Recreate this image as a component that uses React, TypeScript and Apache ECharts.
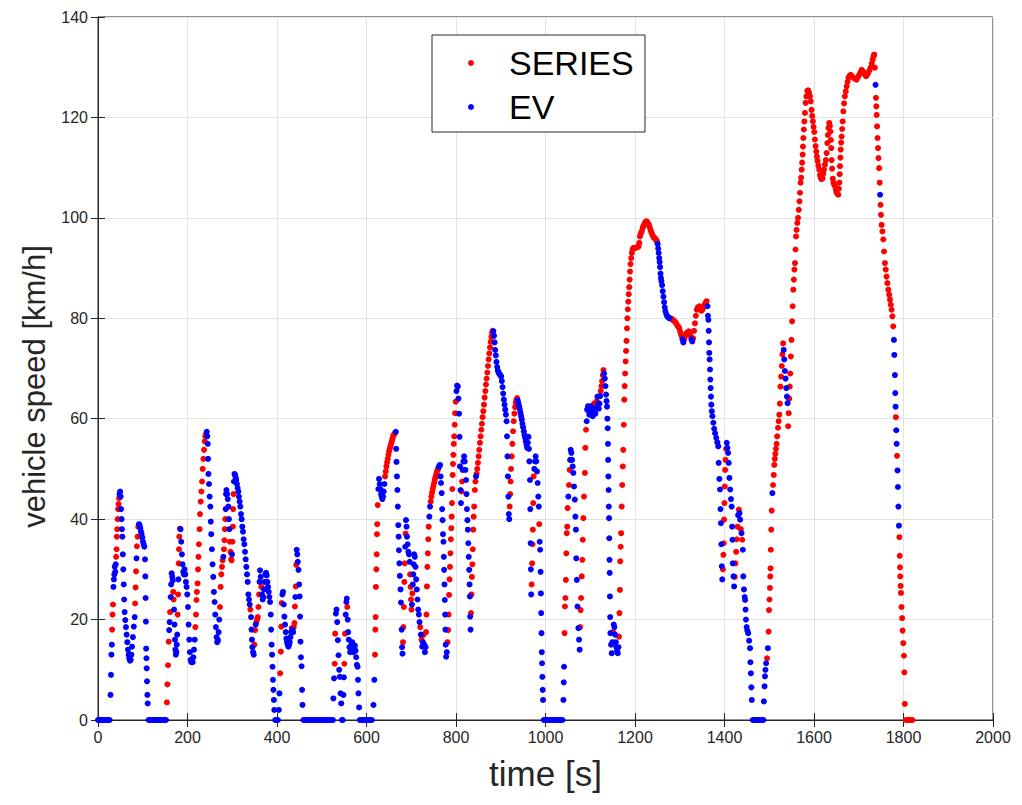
import React, { useEffect, useRef } from "react";
import * as echarts from "echarts";

type Mode = "S" | "E";
type Pt = [number, number, Mode];
const S: Mode = "S";
const E: Mode = "E";

// [time s, speed km/h, mode]  (S = SERIES, E = EV)
const lowPhase: Pt[] = [
  [0,0,E],[2,0,E],[4,0,E],[6,0,E],[8,0,E],[10,0,E],[12,0,E],[14,0,E],[16,0,E],[18,0,E],[20,0,E],[22,0,E],[24,0,E],[26,0,E],
  [28,5,E],[29,9,E],[30,13,E],[31,15,E],[31.5,18,S],[32.5,21,S],[33.5,23,S],[34.5,26.5,E],[35.5,28,E],[36.5,29,E],[37.5,30.5,E],[38.5,29.5,E],[39.5,31,E],[40.5,32.5,S],[41.5,34,S],[42,36.5,S],[43,38,S],[44,40,S],[45,42,S],[46,43,S],[47,44.2,S],[48,45,E],[49.5,45.5,E],[50.5,44.5,E],[51.5,42,E],[52.5,40,E],[53.5,38,E],[54.5,36.5,E],[55.5,33,E],[56.5,30,E],[57.5,27,E],[58.5,24,E],[59.5,21.5,E],[61,19.9,E],[62.5,18.5,E],[64,17,E],[65.5,15.5,E],[67,14,E],[68.5,13,E],[70,12.3,E],[71.5,11.8,E],[73,12,E],[74.5,13,E],[76,14.6,E],[78,16.5,E],[80,18.6,E],[82,20.5,E],[83,23.2,S],[84,26.4,S],[85,29.6,S],[86,32.2,E],[87,34.6,S],[88.5,36.5,S],[90,38.5,S],[91.5,39,E],[93,38.8,E],[94.5,38.2,E],[96,37.5,E],[97.5,37,E],[99,36.3,E],[100.5,35.5,E],[102,35,E],[103.5,34.5,E],[105,32,E],[105.8,28.6,E],[106.4,24.3,E],[107,19.6,E],[107.6,14.2,E],[108.2,12.3,E],[108.8,10.3,E],[109.5,7.7,E],[110.3,5,E],[111,3.3,E],
  [113,0,E],[116,0,E],[119,0,E],[122,0,E],[125,0,E],[128,0,E],[131,0,E],[134,0,E],[137,0,E],[140,0,E],[143,0,E],[146,0,E],[149,0,E],[152,0,E],
  [154,3.5,S],[155,7.1,S],[156.5,10.9,S],[158,15.6,S],[159,17.9,E],[160,19.5,E],[161,21.5,S],[162.4,24.5,E],[163.5,27,E],[164.6,29.2,E],[166,28.5,E],[167,27.8,E],[168,25.5,S],[169,24,S],[170,22,E],[171,19,E],[172,16,E],[173,14,E],[174,13,E],[175,13.5,E],[176,15,E],[177,17,E],[178,21,S],[179,25,S],[179.6,28,E],[180.3,31.2,S],[181,34,S],[181.7,36.5,S],[183,38.1,S],[184.5,38,E],[186,35.5,E],[187.5,33,E],[189,31,E],[190.5,29.5,E],[192,29,E],[193.5,30,E],[195,29,E],[196.5,27.5,E],[198,26.5,E],[199.5,25,E],[201,22.5,E],[202.5,19,E],[204,16,E],[205.5,13.5,E],[207,12,E],[208.5,11.5,E],[210,12,E],[211.5,11.5,E],[213,12.5,E],[214.5,14,E],[216,16,E],
  [217.5,18.5,S],[219,21,S],[220,23.9,S],[221,25.5,S],[222.5,27.2,S],[223.5,30,S],[224.5,32.5,S],[225.5,35,S],[227,38,S],[228,41,S],[229.5,43.5,S],[231,45.5,S],[232.5,47.5,S],[234,50,S],[235.5,52,S],[237,53.8,S],[238.5,55.5,S],[240,56.5,S],[241.5,57,S],[243,57.4,E],[244.2,56.5,E],[245.2,55,E],[246,52,E],[246.8,49,E],[248,47,E],[249.5,44.5,E],[251,42.5,E],[252,39.5,E],[253,37,E],[254.5,34,E],[256,31,E],[257.5,28.5,E],[259,25.5,E],[260.5,23.5,E],[262,21,E],[263.5,18.5,E],[265,16.5,E],[266.5,15.5,E],[268,15.9,E],[269.5,17.5,E],[271,20,E],
  [272.5,22.5,S],[274,26.5,S],[275.5,29,S],[277,30.5,S],[278.5,31.8,S],[280,32.5,E],[281.5,34,S],[282.5,35.8,S],[283.5,38,S],[284.5,40,S],[285.3,42,E],[286,45,E],[287,45.8,E],[288.5,45,E],[290,44,E],[291.3,42.5,E],[292.5,40,E],[293.5,38,E],[294.5,35.5,S],[296,33.5,S],[297.5,32,S],[298.6,31.8,S],[299.5,33,E],[300.5,35.5,S],[301.3,38.5,S],[302,42,S],[302.8,45,S],[303.8,47.5,E],[305,49,E],[306.3,48.8,E],[307.6,48.3,E],[309,47.8,E],[310.5,47,E],[312,46.2,E],[313.5,45.5,E],[315,44.5,E],[316.5,43.5,E],[318,42.5,E],[319.5,41,E],[321,40,E],[322.5,38.5,E],[324,37.5,E],[325.5,36,E],[327,35,E],[328.5,33.5,E],[330,32,E],[331.5,30.5,E],[333,29,E],[334.5,27.5,E],[336,25,E],[337.5,24,E],[339,23,E],[340.5,22,S],[342,20.5,E],[343,18,E],[344,16,E],[345,14.5,E],[346.5,13.5,E],[348,13,E],
  [349.5,15,S],[351,17.9,S],[352.5,19,E],[354,19.5,S],[355.5,20,S],[357,20.5,S],[358.5,22.5,S],[360,25,S],[361,27.5,E],[362,29.8,E],[363.5,28.5,E],[365,26.5,S],[366.5,25,E],[368,24,E],[369.5,24.5,E],[371,26,E],[372.5,27.5,E],[374,29,E],[375.5,29.3,E],[377,28.8,E],[378.5,27.5,E],[380,26.5,E],[381.5,25.5,E],[383,24.5,E],[384.5,23.5,E],[386,21,E],[387,18,E],[388,15,E],[389,13,E],[390,10.6,E],[391,8,E],[392,6,E],[393,4,E],[394,2,E],[396,0,E],[398,0,E],[400,0,E],[402,0,E],
  [404,2,E],[405.5,5.3,E],[407,9.3,S],[408.5,13.6,S],[409.5,18.6,S],[410.5,23.3,S],[412,25,E],[413.5,25.5,E],[415,23,E],[416.5,20.6,E],[418,19,E],[419.5,17.5,E],[421,16.2,E],[422.5,15.5,E],[424,15,E],[425.5,14.6,E],[427,15,E],[428.5,15.5,E],[430,16.5,E],[431.5,17.5,E],[433,18.3,S],[434.5,18,E],[436,17.5,E],[437.5,18.5,S],[439,19.3,S],[440,22.6,S],[441,24.5,E],[442,26.6,S],[443,30.9,S],[444,33.9,E],[445.3,33,E],[446.5,31.5,E],[448,29.9,E],[449.5,27,E],[450.5,24.6,E],[451.5,20.6,E],[452.5,15.6,E],[453.5,12.5,E],[455,10.7,E],[456,6,E],[457,3,E],
  [459,0,E],[462,0,E],[465,0,E],[468,0,E],[471,0,E],[474,0,E],[477,0,E],[480,0,E],[483,0,E],[486,0,E],[489,0,E],[492,0,E],[495,0,E],[498,0,E],[501,0,E],[504,0,E],[507,0,E],[510,0,E],[513,0,E],[516,0,E],[519,0,E],[522,0,E],[525,0,E],
  [526,4.3,E],[527.5,8.3,E],[529,11.2,S],[530,17.2,S],[531.5,21.2,E],[533,22,E],[534.5,19.5,E],[536,15.9,E],[537.5,12.9,E],[539,10,E],[540.5,8.6,E],[542,5.3,E],[543.5,3.3,E],[545,0,E],[547,0,E],[548.5,5,E],[549.5,8.5,E],[550.5,11.2,S],[552,17.2,S],[553.5,21,E],[555,23.5,E],[556,24.2,E],[557,22.5,S],[558,20,E],[559,17.5,E],[560.5,16,E],[562,14.5,E],[563.5,13.5,E],[565,14,E],[566.5,15,E],[568,15.5,E],[569.5,14.5,E],[571,13.5,E],[572.5,14,E],[574,14.8,E],[575.5,13.8,E],[577,12.5,E],[578.5,11,E],[580,10.6,E],[581,8,E],[582,5.3,E],[583.5,2.5,E],
  [585,0,E],[588,0,E],[591,0,E],[594,0,E],[597,0,E],[600,0,E],[603,0,E],[606,0,E],[609,0,E],[612,0,E],
];

const mediumPhase: Pt[] = [
  [615.5,3,E],[617.5,8,E],[619,13,S],[619.8,18,S],[620.4,20.5,S],[621,26.5,S],[622,30,S],[622.7,33,S],[623.3,37,S],[624,39,S],[625,42.8,S],[626.5,46,E],[628,48,E],[629.5,47,E],[631,46,E],[632.5,45,E],[634,44.5,E],[635.5,44,E],[637,44.5,E],[638.5,45.5,E],[640,47,E],
  [641.5,48.5,S],[643,49.5,S],[644.5,50.5,S],[646,51.3,S],[647.5,52,S],[649,52.8,S],[650.5,53.5,S],[652,54,S],[653.5,54.5,S],[655,55,S],[656.5,55.5,S],[658,56,S],[659.5,56.5,S],[661,56.8,S],[662.5,57,S],[664,57.2,S],
  [665.5,57.4,E],[666.3,54,E],[667,51.4,E],[668,48.5,E],[669,45.8,E],[670,42.5,E],[671,38.8,E],[671.8,36.5,E],[672.5,33.8,E],[673.5,31.2,E],[674.5,28.7,E],[676,26,E],[677,23.4,E],[678.5,18,E],[679.5,14.5,E],[680.5,13.2,E],
  [681.5,15.5,S],[682.5,18.5,S],[683.5,22.5,S],[684.5,27.5,S],[685.5,31.2,S],[686.5,34.5,E],[687.3,37.1,S],[688.3,39.8,E],[689.5,38.5,E],[690.5,36.5,E],[692,35,E],[693.5,33.5,E],[695,33,E],[696.5,31.5,E],[697.5,29,S],[698.5,26.5,S],[699.5,24,S],[700.5,22,S],[701.5,23,E],[702.5,25.2,S],[703.5,27,E],[704.5,29,E],[705.5,31,E],[706.5,33,E],[708,32.5,E],[709.5,30.5,E],[711,28,E],[712.5,26,E],[714,24,E],[715.5,22,E],[717,21,E],[718.5,19.5,E],[720,18.5,S],[721.5,17,E],[723,16,S],[724.5,14.6,E],[726,15.5,E],[727.5,17,S],[729,15,E],[730.5,13.5,E],[732,14.5,E],
  [733,17.5,S],[734,21,S],[735,26.6,S],[736,30.5,S],[737,33.2,S],[738,36,S],[739,38.5,S],[740.5,40.5,E],[742,42.5,E],[743.5,43.5,S],[745,44.5,S],[746.5,45.3,S],[748,46,S],[749.5,46.6,S],[751,47.2,S],[752.5,47.8,S],[754,48.3,S],[755.5,48.8,S],[757,49.3,S],[758.5,49.7,S],[760,50,S],[761.5,50.4,E],[763,50.6,E],[764.3,50.8,E],[765.5,48.5,E],[766.5,47.2,E],[768,45.2,E],[769,42,E],[770,39.8,E],[771,37,E],[772,35.5,E],[772.8,32.5,E],[773.5,29.9,E],[774.3,27,E],[775,23.9,E],[775.7,21,E],[776.3,18,E],[777,15,E],[778,12.6,E],[779.5,13.5,E],
  [781,15.5,S],[782.5,17.9,S],[783.5,21,S],[784.5,24.9,S],[785.5,28,S],[786.5,30.5,S],[787.5,33.2,S],[788.5,36,S],[789.5,38.2,S],[790.3,40.5,S],[791,43.2,S],[791.8,46,S],[792.5,48.8,S],[793.3,51,S],[794,52.8,S],[795,55,S],[796,56.5,S],[797,58.8,S],[798,61.1,S],[799.5,63.4,S],
  [801,65.5,E],[802.5,66.6,E],[804,66.4,E],[805.5,64,E],[806.8,61,E],[808,56.4,E],[809,50.5,E],[810,45.8,E],[811,43.2,E],[812.5,45.5,S],[813.5,47.5,S],[815,49.8,E],[816.5,51.5,E],[818,52.5,E],[819.5,51.5,E],[821,49.8,E],[822.5,47.8,E],[823.5,45,E],[824.5,42,E],[825.5,39.8,E],[826.5,37.9,E],[827.5,35.2,E],[828.5,32.5,E],[829.5,29.9,E],[830.3,27,E],[831,24.6,E],[831.7,20.6,E],[832.5,18,E],
  [833.5,21.3,S],[834.5,25,S],[835.5,28.5,S],[836.5,31,S],[837.5,34,S],[838.5,37.9,S],[839.5,40.5,S],[840.5,42.5,S],[842,45.8,S],[843.5,47.5,S],[844.7,48.5,E],[846,49,S],[847.5,50,S],[849,51.2,S],[850.5,52.5,S],[852,53.8,S],[853.5,55.2,S],[855,56.5,S],[856.5,57.8,S],[858,59,S],[859.5,60.3,S],[861,61.5,S],[862.5,62.8,S],[864,64.2,S],[865.5,65.5,S],[867,66.8,S],[868.5,68,S],[870,69.2,S],[871.5,70.5,S],[873,71.8,S],[874.5,73,S],[876,74.2,S],[877.5,75.3,S],[879,76.3,S],[880.5,77.1,S],[882,77.5,S],
  [883.5,77.4,E],[885,76.5,E],[886.3,75.2,E],[887.5,73.7,E],[889,72.6,E],[890.5,71.3,E],[892,70.3,E],[893.5,69.6,E],[895,69.2,E],[896.5,69,E],[898,68.8,E],[899.5,68.6,E],[901,68.4,E],[902.5,67.5,E],[904,66.3,E],[905.5,65,E],[907,63.8,E],[908.5,62.8,E],[910,61.8,E],[911.5,60.8,E],[913,59.5,E],[914,56.5,E],[915,52.5,E],[916,48.5,E],[917,44.5,E],[918,41,E],[919,40,E],
  [920,42.5,S],[921,45,S],[922,47.5,S],[923,50,S],[924.5,52.5,S],[926,55,S],[927.5,57.5,S],[929,59.5,S],[930.5,61,S],[932,62.3,S],[933.5,63.2,S],[935,63.8,S],[936.5,64.1,S],
  [938,63.6,E],[939.5,63.1,E],[941,62.5,E],[942.5,61.9,E],[944,61.2,E],[945.5,60.5,E],[947,59.8,E],[948.5,59,E],[950,58.3,E],[951.5,57.5,E],[953,56.8,E],[954.5,56.2,E],[956,55.5,E],[957.5,54.8,E],[959,54.2,E],[960.5,55.2,E],[962,56.4,E],[963,54,E],[964,51.5,E],[965.3,47.8,E],[966,42,E],[966.7,35.2,E],[967.3,30,E],[968,25,E],
  [969,27,S],[970,31.2,S],[971,35,S],[971.8,37.9,S],[972.5,43.2,S],[973.5,48.5,S],[975,50,E],[976.5,51.5,E],[978,52.5,E],[979.5,51.5,E],[981,49.5,E],[982.5,47.2,E],[984,44.5,E],[985,42.5,E],[986,39,S],[987,35.5,E],[988,33.9,E],[989,29.5,E],[989.7,25.2,E],[990.3,21.3,E],[991,17.3,E],[991.7,13.5,E],[992.3,11.3,E],[993,8.6,E],[993.7,6,E],[994.5,4,E],
  [996,0,E],[999,0,E],[1002,0,E],[1005,0,E],[1008,0,E],[1011,0,E],[1014,0,E],[1017,0,E],[1020,0,E],[1023,0,E],[1026,0,E],[1029,0,E],[1032,0,E],[1035,0,E],[1038,0,E],
];

const highPhase: Pt[] = [
  [1040,4,E],[1040.8,7.5,E],[1041.5,10.6,E],[1042.5,17.3,S],[1043.5,22.6,S],[1044.5,24.3,S],[1045.5,27.9,S],[1046.5,33.2,S],[1047.5,37.2,S],[1048.5,38.5,S],[1049.5,42.2,S],[1051,44.5,E],[1052.5,46.8,S],[1054,49.8,S],[1055,51.8,E],[1056.3,53.8,E],[1057.8,53.2,E],[1059.3,51.8,E],[1060.8,50.5,E],[1062.2,49.2,E],[1063.8,46.5,E],[1065.5,43.9,E],[1066.8,40.5,E],[1068,37.9,E],[1068.7,32.2,E],[1070,27.9,E],[1071.5,22.6,E],[1073.4,18.3,E],[1075,16,E],[1076.3,14,E],
  [1077.5,18.5,S],[1078.5,21.9,S],[1079.5,24.3,S],[1081,28.6,S],[1082.3,31.9,S],[1083.3,35.9,S],[1084.6,40.2,S],[1086,44.5,S],[1088,49.2,S],[1089,54.2,S],[1090.5,57.8,S],[1092,59.5,E],[1093,61.8,E],[1095,62.5,E],[1096.5,61.5,S],[1098,60.8,E],[1099.5,61.5,E],[1101,62.5,E],[1102.5,62.2,S],[1104,61,E],[1105.5,60.5,E],[1107,61.5,E],[1108.5,63,S],[1110,62,E],[1111.5,61,E],[1113,62,E],[1114.5,63.5,S],[1116,64.4,E],[1117.5,63,E],[1119,62,E],[1120.5,63,E],[1122,64.5,E],[1123.5,65.5,S],[1125,66.5,S],[1126.5,67.5,S],[1128,68.7,S],[1129.5,69.7,S],
  [1131,69,E],[1132.5,68,E],[1134,66.5,E],[1135.3,64.8,E],[1136.5,63.5,E],[1137.5,62.4,E],[1138.3,60,E],[1139,58.1,E],[1139.5,55,E],[1140,51.8,E],[1140.5,48.5,E],[1141,45.8,E],[1141.5,42.5,E],[1142,40.2,E],[1142.5,36.2,E],[1143,31.9,E],[1143.5,29.3,E],[1144,24.6,E],[1144.5,20.5,E],[1145,17.3,E],[1146.5,15,E],[1148,13.3,E],[1149.5,15.5,E],[1151,17.5,S],[1152.5,19,E],[1154,18.5,E],[1155.5,17,E],[1157,15.5,E],[1158.5,14.5,E],[1160,13.8,E],[1161.5,13.3,E],[1163,14.5,E],
  [1164.2,16.6,S],[1165.2,21.3,S],[1166.2,25.9,S],[1167,31.6,S],[1168,34.5,S],[1169,37.2,S],[1170.3,42.5,S],[1171.5,46.8,S],[1172.7,50.5,S],[1173.8,53.8,S],[1175,58.8,S],[1176,63.8,S],[1177,66.5,S],[1178,69,S],[1179,71.4,S],[1180,73.5,S],[1181,75.5,S],[1182,78,S],[1183,80,S],[1184,81.8,S],[1185,83.3,S],[1186,84.8,S],[1187,86.2,S],[1188,87.7,S],[1189,89.3,S],[1190,90.8,S],[1191.5,92,S],[1193,93,S],[1194.5,93.7,S],[1196,94,S],[1198,94,S],[1200,94,S],[1202,94.1,S],[1204,94.1,S],[1206,94.2,S],[1208,94.3,S],[1209.5,95,S],[1211,96.3,S],[1213,96.9,S],[1215,97.3,S],[1217,98,S],[1219,98.4,S],[1221,98.8,S],[1223,99.1,S],[1225,99.3,S],[1227,99.2,S],[1229,98.9,S],[1231,98.6,S],[1233,98.1,S],[1235,97.5,S],[1237,97,S],[1239,96.6,S],[1241,96.2,S],[1243,96,S],[1245,95.9,S],[1247,95.6,S],[1249,95.3,S],
  [1250.5,94.8,E],[1251.8,93.9,E],[1253,93,E],[1254,92,E],[1255,91.2,E],[1256,90.2,E],[1257,88.9,E],[1258,88,E],[1259,87.4,E],[1260.5,86.6,E],[1262,85.4,E],[1263.5,84.3,E],[1265,83.2,E],[1266.5,82.2,E],[1268,81.4,E],[1270,80.8,E],[1272,80.4,E],[1274.5,80.2,E],[1277,80,E],
  [1279.5,80,S],[1282,79.9,S],[1284.5,79.7,S],[1287,79.5,S],[1289.5,79.3,S],[1292,79,S],[1294.5,78.6,S],[1297,78.3,S],[1299,78,S],[1301,77.3,S],[1303,76.7,S],[1304.5,76.4,S],[1306,75.8,E],[1308,75.2,E],[1310,75.8,S],[1312,76.4,S],[1314,76.9,S],[1316,77.1,S],[1318,77.2,S],[1320,77.4,S],[1322,77.2,S],[1324,76.5,S],[1326,75.8,E],[1328,75.4,E],[1330,76,S],[1332,77.5,S],[1334,79,S],[1336,80.5,S],[1338,81.7,S],[1340,82.1,S],[1342,82.3,S],[1344,82.4,S],[1346,81.9,S],[1348,81.5,S],[1350,81.6,S],[1352,82,S],[1354,82.4,S],[1356,82.8,S],[1358,83.1,S],[1360,83.4,S],
  [1362,82.4,E],[1363,80.5,E],[1364,79.7,E],[1364.7,77.5,E],[1365.4,75.2,E],[1366,73.1,E],[1366.8,71.8,E],[1367.6,69.8,E],[1368.3,67.8,E],[1369,66.1,E],[1369.8,64.4,E],[1370.6,62.8,E],[1371.6,61.5,E],[1373,60.5,E],[1375,59.2,E],[1377,58,E],[1379,57.1,E],[1381.5,56.2,E],[1384,55.3,E],[1386,54.5,E],[1387,51.2,E],[1388.5,48,E],[1390,45.9,E],[1391,42,E],[1392,39.2,E],[1393,35,E],[1394,30.6,E],[1395,28,E],
  [1396.5,30,S],[1397.5,32.9,S],[1398.2,35.2,S],[1399,39.9,S],[1399.8,43.2,S],[1400.7,46.5,S],[1401.4,49.8,S],[1402.2,51.8,S],[1403.5,54,S],[1405,55.2,E],[1406.5,54.2,E],[1408,53.2,E],[1409.3,51.2,E],[1411,48.2,E],[1412.7,45.9,E],[1414.5,44,E],[1416,42.5,E],[1417,38.5,E],[1417.8,35.9,E],[1418.5,31.2,E],[1420,28.6,E],[1421.5,26.6,E],
  [1423,28.5,S],[1424.5,31.2,S],[1426,33.5,S],[1427.5,36,S],[1429,38.5,S],[1430.5,40.8,E],[1432,41.9,S],[1433.5,41.2,E],[1435,39.9,E],[1436.5,38,S],[1438,37.2,E],[1439.5,35.9,S],[1441,33.9,E],[1442,28.6,E],[1443.5,26,E],[1445,24.5,E],[1446,23.9,E],[1447,22,E],[1448,20,E],[1449.5,18.5,E],[1451,17.8,E],[1453,17.3,E],[1455,15.8,E],[1457,14.3,E],[1458,11.5,E],[1459,9.3,E],[1460,6.5,E],[1461,4,E],
  [1463,0,E],[1466,0,E],[1469,0,E],[1472,0,E],[1475,0,E],[1478,0,E],[1481,0,E],[1484,0,E],[1487,0,E],
];

const extraHighPhase: Pt[] = [
  [1488,3.7,E],[1489.5,6.7,E],[1490.5,8.7,E],[1491.5,10,E],[1493,11.3,E],[1495,12.3,S],[1497,14.3,E],[1498.5,17.6,S],[1499.5,21.9,S],[1500.5,24,S],[1501.5,26.3,S],[1502.2,28.6,S],[1502.8,30.2,S],[1503.5,33.9,S],[1504.5,37.9,S],[1505.5,41.7,S],[1507,45.2,E],[1508.5,46.8,S],[1510,48.8,S],[1511.3,50.8,S],[1512.5,52,S],[1513.7,53,S],[1515,54,S],[1516.3,55,S],[1517.8,56.5,S],[1519.5,58.2,S],[1521,59.5,S],[1522.5,60.8,S],[1523.8,63,S],[1525,66.4,S],[1526.5,68.4,S],[1528,70.5,S],[1529.5,72.8,S],[1531,75,S],
  [1532.3,73.7,E],[1533.5,71.8,E],[1535,69.5,E],[1536.5,68,E],[1538,66.1,E],[1539.5,64.4,E],[1541,63.1,E],
  [1542.3,58.5,S],[1543.5,61.1,S],[1544.7,64,S],[1545.8,66.4,S],[1547,69,S],[1548.3,72.4,S],[1549.6,75.7,S],[1551,79.4,S],[1552.3,82.4,S],[1553.6,85.7,S],[1555,87.7,S],[1556.2,89.7,S],[1557.5,91,S],[1558.7,93.7,S],[1559.8,96.3,S],[1561,97.6,S],[1562.7,99,S],[1564.3,100,S],[1566,101.6,S],[1567.5,103.3,S],[1568.7,105,S],[1570,107,S],[1571.2,108,S],[1572.4,109.6,S],[1573.5,111,S],[1574.6,112.6,S],[1575.3,114.2,S],[1576.2,115.9,S],[1577.3,117.6,S],[1578.4,119.2,S],[1579.8,120.9,S],[1581.2,122.9,S],[1583,124.2,S],[1585,125.3,S],[1587,125.4,S],[1589,124.9,S],[1591,124.2,S],[1592.8,123.2,S],[1594.5,121.5,S],[1596,120.3,S],[1597.5,119.2,S],[1599,118.1,S],[1600.5,117.1,S],[1602,115.6,S],[1603.5,114.3,S],[1605,113.2,S],[1606.5,112.2,S],[1608,111.3,S],[1609.8,110.4,S],[1611.7,109.6,S],[1613.5,108.5,S],[1615.3,107.9,S],[1617,107.7,S],[1619,107.9,S],[1620.7,108.8,S],[1622.3,109.6,S],[1624.5,110.6,S],[1626.5,111.5,S],[1628.3,112.9,S],[1629.8,114.9,S],[1631,116.5,S],[1632.3,117.9,S],[1634,118.9,S],[1635.5,118.3,S],[1636.7,117.2,S],[1637.7,115.5,S],[1638.5,113.9,S],[1639.4,111.5,S],[1640.5,109.8,S],[1642,107.8,S],[1643.6,107,S],[1645.3,106.6,S],[1647,106.3,S],[1648.8,105.6,S],[1650.6,105,S],[1652.5,104.8,S],[1654.3,104.6,S],[1655.6,105.8,S],[1656.6,107,S],[1657.4,108.7,S],[1658.1,110.3,S],[1658.9,112,S],[1659.7,113.6,S],[1660.7,115,S],[1661.8,116.2,S],[1663,117.7,S],[1664.1,119.2,S],[1665.5,121.2,S],[1667.2,122.8,S],[1669,124.2,S],[1671,125.2,S],[1673,126.2,S],[1675,127.1,S],[1677,127.9,S],[1679.5,128.3,S],[1682,128.5,S],[1685,128.2,S],[1688,127.9,S],[1691.5,127.7,S],[1695,127.5,S],[1698,128,S],[1701,128.5,S],[1704,129,S],[1706.5,129.5,S],[1709,129.2,S],[1711.7,128.9,S],[1714,128.5,S],[1716.3,128.2,S],[1718.8,128.5,S],[1721.4,128.9,S],[1724,129.4,S],[1726.6,129.9,S],[1729,130.7,S],[1731,131.5,S],[1733,132.2,S],[1734.5,132.5,S],[1736,129.9,S],
  [1737.5,126.5,E],[1738.5,123.9,S],[1739.3,122.2,S],[1740,120.5,S],[1741,118.2,S],[1742,115.9,S],[1743,113.9,S],[1744.2,111.9,S],[1745.6,109.9,S],[1746.8,107,S],[1747.6,104.6,E],[1748.6,102.6,S],[1749.7,100.6,S],[1751,98.6,S],[1752.8,97.3,S],[1754.8,95.7,S],[1756.6,93.3,S],[1758.5,91,S],[1760.3,89.7,S],[1762,88.3,S],[1764,87,S],[1766,85.7,S],[1768,84.7,S],[1769.8,83.7,S],[1771.6,82.7,S],[1773.4,81.7,S],[1775.2,80.4,S],[1777,78.4,S],
  [1778.6,75.7,E],[1779.5,72.7,E],[1780.8,68.7,E],[1781.5,65.1,E],[1782.3,62.4,E],[1783,60.3,S],[1783.8,57.7,E],[1784.7,55,E],[1785.6,52.6,S],[1786.6,49.7,E],[1787.6,46.4,E],[1788.5,42.5,E],[1789.8,38.7,E],[1790.8,36.4,S],[1791.6,32.7,S],[1792.2,30.4,S],[1792.8,28.6,S],[1793.5,26.7,S],[1794.3,25.3,S],[1795.5,22.5,S],[1796.8,20.3,S],[1798,17.8,S],[1799.5,15.3,S],[1801,12.8,S],[1802,9.5,S],[1803,3.2,S],[1805,0,S],[1808,0,S],[1811,0,S],[1814,0,S],[1817,0,S],[1820,0,S],
];

const seriesNames = ["SERIES", "EV"];
const seriesColors = ["#ff0000", "#0000ff"];
const xTitle = "time [s]";
const yTitle = "vehicle speed [km/h]";

const FONT = "'Liberation Sans', Arial, Helvetica, sans-serif";
const INK = "#262626";

export default function App() {
  const ref = useRef<HTMLDivElement>(null);

  useEffect(() => {
    if (!ref.current) return;
    const chart = echarts.init(ref.current, undefined, { renderer: "svg" });
    const all = [...lowPhase, ...mediumPhase, ...highPhase, ...extraHighPhase];
    const seriesData = all.filter((p) => p[2] === "S").map((p) => [p[0], p[1]]);
    const evData = all.filter((p) => p[2] === "E").map((p) => [p[0], p[1]]);

    const mirrorX = {
      type: "value", min: 0, max: 2000, interval: 200, position: "top",
      axisLine: { show: true, lineStyle: { color: INK } },
      axisTick: { show: true, inside: true, length: 7, lineStyle: { color: INK } },
      axisLabel: { show: false }, splitLine: { show: false },
    };
    const mirrorY = {
      type: "value", min: 0, max: 140, interval: 20, position: "right",
      axisLine: { show: true, lineStyle: { color: INK } },
      axisTick: { show: true, inside: true, length: 7, lineStyle: { color: INK } },
      axisLabel: { show: false }, splitLine: { show: false },
    };

    const legendX = 432, legendY = 35, legendW = 213, legendH = 97;
    const rowY = [legendY + 28, legendY + 72];

    chart.setOption({
      animation: false,
      backgroundColor: "#ffffff",
      grid: { left: 98, right: 29, top: 17, bottom: 85, show: true, borderColor: INK, borderWidth: 1 },
      xAxis: [
        {
          type: "value", min: 0, max: 2000, interval: 200, position: "bottom",
          name: xTitle, nameLocation: "middle", nameGap: 36,
          nameTextStyle: { fontSize: 35, color: INK, fontFamily: FONT },
          axisLine: { show: true, onZero: false, lineStyle: { color: INK } },
          axisTick: { show: true, inside: true, length: 7, lineStyle: { color: INK } },
          axisLabel: { fontSize: 16, color: INK, margin: 9, fontFamily: FONT, formatter: (v: number) => String(v) },
          splitLine: { show: true, lineStyle: { color: "#e3e3e3", width: 1 } },
        },
        mirrorX,
      ],
      yAxis: [
        {
          type: "value", min: 0, max: 140, interval: 20, position: "left",
          name: yTitle, nameLocation: "middle", nameGap: 45,
          nameTextStyle: { fontSize: 31, color: INK, fontFamily: FONT, padding: [0, 36, 0, 0] },
          axisLine: { show: true, onZero: false, lineStyle: { color: INK } },
          axisTick: { show: true, inside: true, length: 7, lineStyle: { color: INK } },
          axisLabel: { fontSize: 16, color: INK, margin: 10, fontFamily: FONT, formatter: (v: number) => String(v) },
          splitLine: { show: true, lineStyle: { color: "#e3e3e3", width: 1 } },
        },
        mirrorY,
      ],
      graphic: [
        {
          type: "rect", z: 100, silent: true,
          shape: { x: legendX, y: legendY, width: legendW, height: legendH },
          style: { fill: "#ffffff", stroke: INK, lineWidth: 1 },
        },
        ...seriesNames.flatMap((name, i) => [
          {
            type: "circle", z: 101, silent: true,
            shape: { cx: legendX + 39, cy: rowY[i], r: 3 },
            style: { fill: seriesColors[i] },
          },
          {
            type: "text", z: 101, silent: true, x: legendX + 77, y: rowY[i],
            style: { text: name, fontSize: 34, fontFamily: FONT, fill: "#000", verticalAlign: "middle", align: "left" },
          },
        ]),
      ],
      series: [
        {
          type: "scatter", name: seriesNames[0], data: seriesData,
          xAxisIndex: 0, yAxisIndex: 0, symbol: "circle", symbolSize: 6,
          itemStyle: { color: seriesColors[0], opacity: 1 }, clip: false,
        },
        {
          type: "scatter", name: seriesNames[1], data: evData,
          xAxisIndex: 0, yAxisIndex: 0, symbol: "circle", symbolSize: 6,
          itemStyle: { color: seriesColors[1], opacity: 1 }, clip: false,
        },
      ],
    });
    return () => chart.dispose();
  }, []);

  return (
    <div
      ref={ref}
      style={{ position: "fixed", left: 0, top: 0, width: 1022, height: 805, background: "#fff" }}
    />
  );
}
